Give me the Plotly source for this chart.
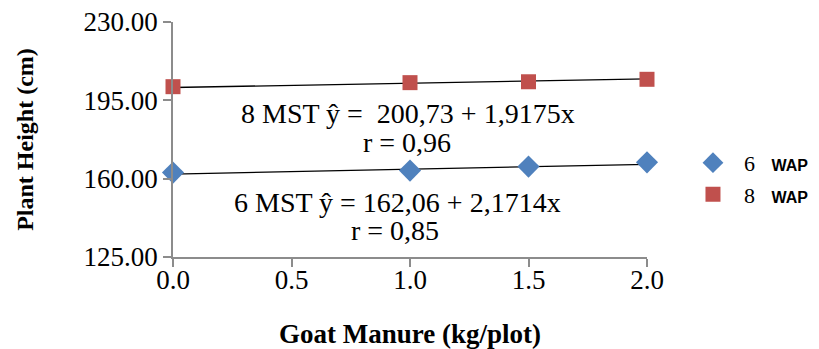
import plotly.graph_objects as go

manure = [0.0, 1.0, 1.5, 2.0]
wap6 = [162.7, 163.6, 165.4, 167.3]
wap8 = [201.1, 202.9, 203.3, 204.4]
fit_x = [0.0, 2.0]
int6, slope6 = 162.06, 2.1714
int8, slope8 = 200.73, 1.9175
x_ticks = [0.0, 0.5, 1.0, 1.5, 2.0]
y_ticks = [125, 160, 195, 230]

serif = "Liberation Serif"
wap = "<span style='font-family:Liberation Sans;font-size:16px'><b>WAP</b></span>"
fig = go.Figure()
fig.add_trace(go.Scatter(x=fit_x, y=[int6 + slope6 * v for v in fit_x], mode="lines",
                         line=dict(color="black", width=1.3), showlegend=False, hoverinfo="skip"))
fig.add_trace(go.Scatter(x=fit_x, y=[int8 + slope8 * v for v in fit_x], mode="lines",
                         line=dict(color="black", width=1.3), showlegend=False, hoverinfo="skip"))
fig.add_trace(go.Scatter(x=manure, y=wap6, mode="markers", cliponaxis=False,
                         name="&nbsp;&nbsp;6&nbsp;&nbsp;&nbsp;" + wap,
                         marker=dict(symbol="diamond", size=17, color="#4F81BD")))
fig.add_trace(go.Scatter(x=manure, y=wap8, mode="markers", cliponaxis=False,
                         name="&nbsp;&nbsp;8&nbsp;&nbsp;&nbsp;" + wap,
                         marker=dict(symbol="square", size=15, color="#C0504D")))

# reference pixel positions (page coords) of the plot frame
L, R, T, B = 173, 647, 22, 257
OFF = 8  # page body margin
ann = [
    ("8 MST ŷ =&nbsp; 200,73 + 1,9175x", 408, 113),
    ("r = 0,96", 407, 142),
    ("6 MST ŷ = 162,06 + 2,1714x", 397, 202),
    ("r = 0,85", 395, 230),
]
for txt, px, py in ann:
    fig.add_annotation(text=txt, x=(px - L) / (R - L), y=(B - py) / (B - T), xref="paper", yref="paper",
                       xanchor="center", yanchor="middle",
                       showarrow=False, font=dict(family=serif, size=28, color="black"))

W, H = 811, 341
fig.update_layout(
    width=W, height=H,
    margin=dict(l=L - OFF, r=W - (R - OFF), t=T - OFF, b=H - (B - OFF), autoexpand=False),
    paper_bgcolor="white", plot_bgcolor="white",
    font=dict(family=serif, size=22, color="black"),
    legend=dict(x=1.097, y=0.49, xanchor="left", yanchor="top", font=dict(family=serif, size=22),
                tracegroupgap=0, itemsizing="trace"),
    xaxis=dict(range=[0, 2], tickvals=x_ticks, ticktext=[f"{v:.1f}" for v in x_ticks],
               showgrid=False, zeroline=False, showline=True, linecolor="#8c8c8c", linewidth=1.5,
               ticks="outside", ticklen=8, tickcolor="#8c8c8c", tickwidth=1.5, automargin=False,
               tickfont=dict(family=serif, size=27), ticklabelstandoff=-10, ticklabeloverflow="allow",
               title=dict(text="<b>Goat Manure (kg/plot)</b>", font=dict(family=serif, size=27), standoff=58)),
    yaxis=dict(range=[125, 230], tickvals=y_ticks, ticktext=[f"{v:.2f}" for v in y_ticks],
               showgrid=False, zeroline=False, showline=True, linecolor="#8c8c8c", linewidth=1.5,
               ticks="outside", ticklen=8, tickcolor="#8c8c8c", tickwidth=1.5, automargin=False,
               tickfont=dict(family=serif, size=27), ticklabeloverflow="allow",
               title=dict(text="<b>Plant Height (cm)</b>", font=dict(family=serif, size=24), standoff=43)),
)
fig.write_html("out.html")
